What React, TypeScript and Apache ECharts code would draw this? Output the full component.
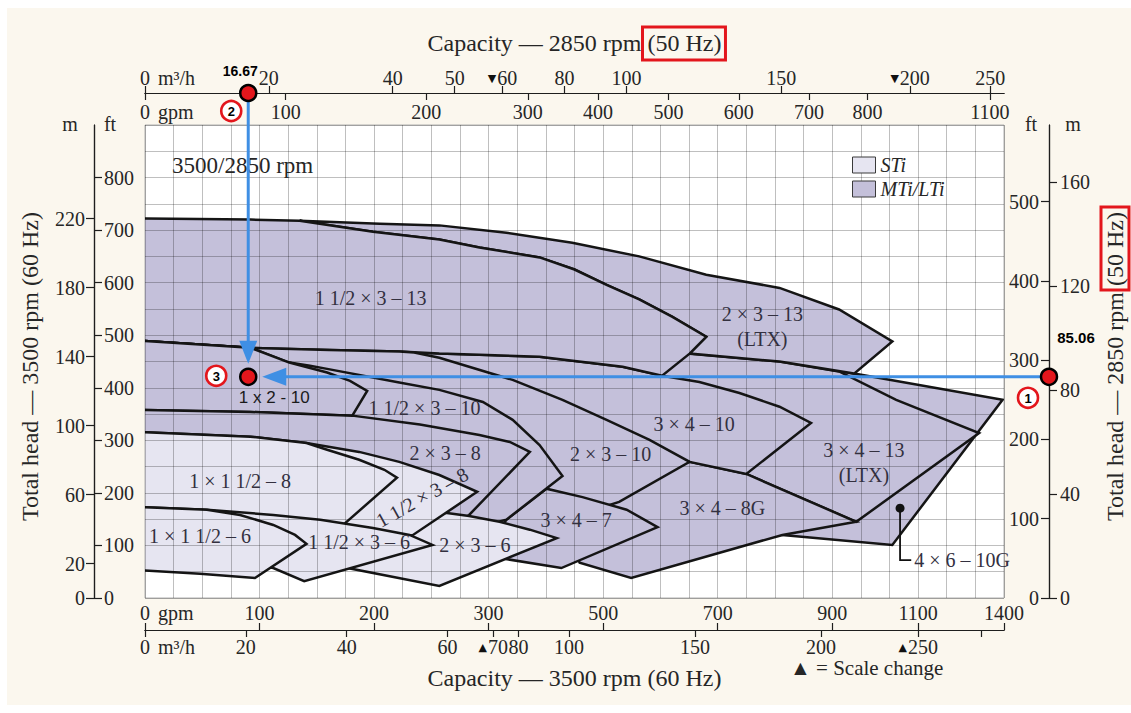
import React, { useEffect, useRef } from 'react';
import * as echarts from 'echarts';

// ---------- scales (the chart's broken capacity scale) ----------
const GPM_BREAKS = [0, 300, 900, 1100, 1400];
const POS_BREAKS = [0, 12, 24, 27, 30];
const GPM_PER_M3H = 4.4029;
const SPEED_RATIO = 2850 / 3500;
const FT_PER_M = 3.2808;
const FT_MAX = 900;

function gpmToPos(g: number): number {
  if (g <= GPM_BREAKS[1]) {
    return POS_BREAKS[0] + ((g - GPM_BREAKS[0]) * (POS_BREAKS[1] - POS_BREAKS[0])) / (GPM_BREAKS[1] - GPM_BREAKS[0]);
  }
  for (let i = 2; i < GPM_BREAKS.length; i++) {
    if (g <= GPM_BREAKS[i] || i === GPM_BREAKS.length - 1) {
      const t = (g - GPM_BREAKS[i - 1]) / (GPM_BREAKS[i] - GPM_BREAKS[i - 1]);
      return POS_BREAKS[i - 1] + t * (POS_BREAKS[i] - POS_BREAKS[i - 1]);
    }
  }
  return 30;
}

// ---------- tick labels ----------
const BOTTOM_GPM_TICKS = [0, 100, 200, 300, 500, 700, 900, 1100, 1400];
const BOTTOM_M3H_TICKS = [0, 20, 40, 60, 70, 80, 100, 150, 200, 250, 300];
const BOTTOM_M3H_LABELS = ['0', '20', '40', '60', '{t|▲}70', '80', '100', '150', '200', '{t|▲}250', ''];
const TOP_GPM_TICKS = [0, 100, 200, 300, 400, 500, 600, 700, 800, 1100];
const TOP_M3H_TICKS = [0, 20, 40, 50, 60, 80, 100, 150, 200, 250];
const TOP_M3H_LABELS = ['0', '20', '40', '50', '{t|▼}60', '80', '100', '150', '{t|▼}200', '250'];
const LEFT_FT_TICKS = [0, 100, 200, 300, 400, 500, 600, 700, 800];
const LEFT_M_TICKS = [0, 20, 60, 100, 140, 180, 220];
const RIGHT_FT_TICKS = [0, 100, 200, 300, 400, 500];
const RIGHT_M_TICKS = [0, 40, 80, 120, 160];

// ---------- pump coverage regions: [gpm @3500 rpm, ft @3500 rpm] ----------
type Pt = [number, number];
const R_4X6_10G: Pt[] = [[563, 415], [633, 461], [651, 465], [808, 450], [951, 427], [1395, 377], [1040, 101], [813, 120], [668, 149], [563, 339]];
const R_3X4_13: Pt[] = [[494, 434], [633, 461], [651, 465], [808, 450], [916, 431], [1049, 377], [1313, 314], [956, 145], [750, 236], [651, 259], [563, 339]];
const R_3X4_8G: Pt[] = [[494, 225], [651, 259], [750, 236], [956, 145], [813, 120], [549, 38], [459, 67], [441, 110]];
const R_3X4_10: Pt[] = [[-6, 490], [92, 476], [161, 472], [222, 469], [257, 465], [292, 463], [389, 459], [534, 440], [603, 423], [668, 411], [738, 390], [808, 364], [863, 333], [750, 236], [651, 259], [563, 282], [266, 415], [-6, 434]];
const R_2X3_13: Pt[] = [[135, 718], [205, 712], [257, 709], [331, 695], [446, 676], [563, 650], [680, 615], [808, 590], [916, 549], [1040, 488], [951, 427], [808, 450], [651, 465], [680, 497], [621, 535], [563, 568], [506, 596], [450, 625], [389, 648], [292, 667], [257, 682], [199, 697], [135, 718]];
const R_15X3_13: Pt[] = [[-6, 722], [92, 720], [135, 718], [199, 697], [257, 682], [292, 667], [389, 648], [450, 625], [506, 596], [563, 568], [621, 535], [680, 497], [651, 465], [603, 423], [534, 440], [389, 459], [292, 463], [257, 465], [222, 469], [161, 472], [92, 476], [-6, 490]];
const R_2X3_10: Pt[] = [[-6, 490], [92, 476], [161, 472], [222, 469], [235, 467], [257, 457], [342, 415], [429, 377], [506, 339], [581, 301], [651, 259], [528, 183], [485, 168], [427, 177], [389, 196], [354, 225], [266, 368], [161, 406], [-6, 415]];
const R_3X4_7: Pt[] = [[331, 149], [401, 208], [464, 192], [541, 168], [595, 135], [427, 57], [331, 74], [319, 101], [319, 130]];
const R_15X3_10: Pt[] = [[-6, 490], [92, 476], [126, 448], [144, 442], [159, 436], [222, 410], [257, 396], [295, 373], [342, 339], [389, 291], [429, 232], [331, 149], [302, 141], [279, 145], [257, 225], [179, 301], [-6, 330]];
const R_1X2_10: Pt[] = [[-6, 490], [92, 476], [126, 448], [159, 429], [179, 413], [194, 394], [181, 347], [92, 354], [-6, 358]];
const R_2X3_8: Pt[] = [[-6, 358], [92, 354], [181, 347], [240, 330], [292, 310], [337, 297], [372, 278], [283, 158], [270, 139], [240, 187], [135, 263], [-6, 291]];
const R_2X3_6: Pt[] = [[262, 162], [283, 156], [319, 145], [372, 130], [419, 114], [257, 23], [177, 57], [161, 91], [222, 149]];
const R_15X3_8: Pt[] = [[-6, 316], [92, 307], [141, 295], [187, 278], [222, 259], [257, 234], [290, 202], [234, 120], [214, 110], [135, 137], [-6, 158]];
const R_1X15_8: Pt[] = [[-6, 316], [92, 307], [141, 295], [159, 282], [187, 263], [209, 244], [220, 229], [174, 141], [149, 126], [-6, 158]];
const R_15X3_6: Pt[] = [[-6, 173], [54, 168], [112, 158], [153, 149], [199, 133], [231, 120], [251, 101], [139, 32], [112, 57], [65, 72], [-6, 72]];
const R_1X15_6: Pt[] = [[-6, 173], [54, 168], [83, 158], [112, 139], [131, 120], [141, 103], [96, 38], [48, 46], [-6, 53]];

type Region = { name: string; pts: Pt[] };
// back-to-front drawing order
const MTI_REGIONS: Region[] = [
  { name: '4×6-10G', pts: R_4X6_10G },
  { name: '3×4-13 (LTX)', pts: R_3X4_13 },
  { name: '3×4-8G', pts: R_3X4_8G },
  { name: '3×4-10', pts: R_3X4_10 },
  { name: '2×3-13 (LTX)', pts: R_2X3_13 },
  { name: '1 1/2×3-13', pts: R_15X3_13 },
  { name: '2×3-10', pts: R_2X3_10 },
  { name: '3×4-7', pts: R_3X4_7 },
  { name: '1 1/2×3-10', pts: R_15X3_10 },
  { name: '1×2-10', pts: R_1X2_10 },
  { name: '2×3-8', pts: R_2X3_8 },
];
const STI_REGIONS: Region[] = [
  { name: '2×3-6', pts: R_2X3_6 },
  { name: '1 1/2×3-8', pts: R_15X3_8 },
  { name: '1×1 1/2-8', pts: R_1X15_8 },
  { name: '1 1/2×3-6', pts: R_15X3_6 },
  { name: '1×1 1/2-6', pts: R_1X15_6 },
];

const PUMP_LABELS = [
  { text: '1 1/2 × 3 – 13', gpm: 197, ft: 571, rotate: 0 },
  { text: '2 × 3 – 13\n(LTX)', gpm: 778, ft: 516, rotate: 0 },
  { text: '1 1/2 × 3 – 10', gpm: 244, ft: 362, rotate: 0 },
  { text: '2 × 3 – 8', gpm: 262, ft: 276, rotate: 0 },
  { text: '1 × 1 1/2 – 8', gpm: 83, ft: 222, rotate: 0 },
  { text: '1 1/2 × 3 – 8', gpm: 242, ft: 192, rotate: 29 },
  { text: '2 × 3 – 10', gpm: 513, ft: 274, rotate: 0 },
  { text: '3 × 4 – 10', gpm: 659, ft: 331, rotate: 0 },
  { text: '3 × 4 – 13\n(LTX)', gpm: 974, ft: 257, rotate: 0 },
  { text: '3 × 4 – 8G', gpm: 708, ft: 171, rotate: 0 },
  { text: '3 × 4 – 7', gpm: 453, ft: 149, rotate: 0 },
  { text: '1 × 1 1/2 – 6', gpm: 48, ft: 118, rotate: 0 },
  { text: '1 1/2 × 3 – 6', gpm: 187, ft: 107, rotate: 0 },
  { text: '2 × 3 – 6', gpm: 288, ft: 101, rotate: 0 },
];

// 4×6-10G leader
const LEADER_PTS: Pt[] = [[1058, 171], [1058, 72], [1084, 72]];
const LEADER_LABEL = { text: '4 × 6 – 10G', gpm: 1091, ft: 72 };

// selection example (2850 rpm duty point)
const DUTY_FLOW_M3H = 16.67;
const DUTY_HEAD_M = 85.06;

// ---------- styles ----------
const DARK = '#C4C0DA';
const LIGHT = '#E6E5F1';
const STROKE = '#151515';
const GRID_LINE = 'rgba(0,0,0,0.25)';
const AXIS_COLOR = '#1e1e1e';
const TEXT = '#262626';
const PUMP_TEXT = '#33303f';
const SERIF = '"Liberation Serif", "DejaVu Serif", serif';
const SANS = '"Liberation Sans", Arial, sans-serif';
const BLUE = '#3f8fe4';
const RED = '#e3161c';
const LEFT_OFFSET = 51;
const RIGHT_OFFSET = 45;

function lookup(positions: number[], labels: string[]) {
  return (v: number) => {
    for (let i = 0; i < positions.length; i++) {
      if (Math.abs(positions[i] - v) < 1e-3) return labels[i];
    }
    return '';
  };
}

function capAxis(position: 'top' | 'bottom', positions: number[], labels: string[], inside: boolean, margin: number) {
  return {
    type: 'value',
    min: 0,
    max: 30,
    position,
    offset: 32,
    axisLine: { show: true, onZero: false, lineStyle: { color: AXIS_COLOR, width: 1.2 } },
    axisTick: { show: true, inside, length: 7, customValues: positions, lineStyle: { color: AXIS_COLOR, width: 1.2 } },
    axisLabel: {
      show: true,
      inside,
      margin,
      customValues: positions,
      showMinLabel: true,
      showMaxLabel: true,
      formatter: lookup(positions, labels),
      color: TEXT,
      fontFamily: SERIF,
      fontSize: 20,
      rich: { t: { fontSize: 11, fontFamily: '"DejaVu Sans", sans-serif', color: '#111', padding: [0, 1, 0, 0] } },
    },
    splitLine: { show: false },
  };
}

function headAxis(position: 'left' | 'right', offset: number, max: number, ticks: number[], inside: boolean, margin: number) {
  return {
    type: 'value',
    min: 0,
    max,
    position,
    offset,
    axisLine: { show: true, onZero: false, lineStyle: { color: AXIS_COLOR, width: 1.2 } },
    axisTick: { show: true, inside, length: 8, customValues: ticks, lineStyle: { color: AXIS_COLOR, width: 1.2 } },
    axisLabel: {
      show: true,
      inside,
      margin,
      customValues: ticks,
      showMinLabel: true,
      showMaxLabel: true,
      formatter: (v: number) => String(Math.round(v)),
      color: TEXT,
      fontFamily: SERIF,
      fontSize: 20,
    },
    splitLine: { show: false },
  };
}

function regionSeries(name: string, regions: Region[], fill: string) {
  return {
    type: 'custom',
    name,
    clip: true,
    silent: true,
    z: 2,
    itemStyle: { color: fill },
    data: regions.map((r) => ({ name: r.name, value: [0, 0] })),
    renderItem: (params: any, api: any) => {
      const r = regions[params.dataIndex];
      const points = r.pts.map(([g, f]) => api.coord([gpmToPos(g), f]));
      return {
        type: 'polygon',
        shape: { points },
        style: { fill, stroke: STROKE, lineWidth: 2.5, lineJoin: 'miter' },
      };
    },
  };
}

function buildOption() {
  const bottomGpmPos = BOTTOM_GPM_TICKS.map((v) => gpmToPos(v));
  const bottomM3hPos = BOTTOM_M3H_TICKS.map((v) => gpmToPos(v * GPM_PER_M3H));
  const topGpmPos = TOP_GPM_TICKS.map((v) => gpmToPos(v / SPEED_RATIO));
  const topM3hPos = TOP_M3H_TICKS.map((v) => gpmToPos((v * GPM_PER_M3H) / SPEED_RATIO));
  const sr2 = SPEED_RATIO * SPEED_RATIO;

  return {
    animation: false,
    backgroundColor: 'transparent',
    grid: {
      left: 145,
      right: 127,
      top: 125,
      bottom: 115,
      show: true,
      backgroundColor: '#ffffff',
      borderColor: '#b0b0b0',
      borderWidth: 1,
    },
    legend: {
      orient: 'vertical',
      left: 852,
      top: 155,
      padding: 0,
      itemWidth: 23,
      itemHeight: 16,
      itemGap: 4,
      icon: 'rect',
      selectedMode: false,
      z: 20,
      textStyle: { fontFamily: SERIF, fontStyle: 'italic', fontSize: 20, color: TEXT },
      data: [
        { name: 'STi', itemStyle: { color: LIGHT, borderColor: '#3a3a3a', borderWidth: 1 } },
        { name: 'MTi/LTi', itemStyle: { color: DARK, borderColor: '#3a3a3a', borderWidth: 1 } },
      ],
    },
    xAxis: [
      {
        type: 'value',
        min: 0,
        max: 30,
        interval: 1,
        position: 'bottom',
        z: 10,
        axisLine: { show: false, onZero: false },
        axisTick: { show: false },
        axisLabel: { show: false },
        splitLine: { show: true, lineStyle: { color: GRID_LINE, width: 1 } },
      },
      capAxis('bottom', bottomGpmPos, BOTTOM_GPM_TICKS.map(String), true, 7),
      capAxis('bottom', bottomM3hPos, BOTTOM_M3H_LABELS, false, 7),
      capAxis('top', topGpmPos, TOP_GPM_TICKS.map(String), true, 9),
      capAxis('top', topM3hPos, TOP_M3H_LABELS, false, 5),
    ],
    yAxis: [
      {
        type: 'value',
        min: 0,
        max: FT_MAX,
        interval: 50,
        z: 10,
        axisLine: { show: false, onZero: false },
        axisTick: { show: false },
        axisLabel: { show: false },
        splitLine: { show: true, lineStyle: { color: GRID_LINE, width: 1 } },
      },
      headAxis('left', LEFT_OFFSET, FT_MAX, LEFT_FT_TICKS, true, 10),
      headAxis('left', LEFT_OFFSET, FT_MAX / FT_PER_M, LEFT_M_TICKS, false, 9),
      headAxis('right', RIGHT_OFFSET, FT_MAX * sr2, RIGHT_FT_TICKS, true, 10),
      headAxis('right', RIGHT_OFFSET, (FT_MAX * sr2) / FT_PER_M, RIGHT_M_TICKS, false, 11),
    ],
    series: [
      regionSeries('MTi/LTi', MTI_REGIONS, DARK),
      regionSeries('STi', STI_REGIONS, LIGHT),
      {
        type: 'custom',
        name: 'pump models',
        z: 12,
        silent: true,
        data: PUMP_LABELS.map((l) => ({ value: [gpmToPos(l.gpm), l.ft] })),
        renderItem: (params: any, api: any) => {
          const l = PUMP_LABELS[params.dataIndex];
          const p = api.coord([gpmToPos(l.gpm), l.ft]);
          return {
            type: 'text',
            x: p[0],
            y: p[1],
            rotation: (l.rotate * Math.PI) / 180,
            style: {
              text: l.text,
              fill: PUMP_TEXT,
              font: `20px ${SERIF}`,
              align: 'center',
              verticalAlign: 'middle',
              textAlign: 'center',
              textVerticalAlign: 'middle',
              lineHeight: 25,
            },
          };
        },
      },
    ],
  };
}

function txt(x: number, y: number, text: string, font: string, opts: any = {}) {
  return {
    type: 'text',
    x,
    y,
    z: 50,
    rotation: opts.rotation || 0,
    style: {
      text,
      font,
      fill: opts.fill || TEXT,
      align: opts.align || 'left',
      verticalAlign: 'middle',
      textAlign: opts.align || 'left',
      textVerticalAlign: 'middle',
    },
  };
}

export default function App() {
  const ref = useRef<HTMLDivElement>(null);
  useEffect(() => {
    if (!ref.current) return;
    const chart = echarts.init(ref.current, null, { renderer: 'svg' });
    chart.setOption(buildOption() as any);

    const toPx = (g: number, f: number) => chart.convertToPixel({ gridIndex: 0 } as any, [gpmToPos(g), f]) as number[];
    const [gx0, gyTop] = toPx(0, FT_MAX);
    const [gx1, gyBot] = toPx(1400, 0);
    const axisTopY = gyTop - 32;
    const axisBotY = gyBot + 32;
    const axisRightX = gx1 + RIGHT_OFFSET;
    const axisLeftX = gx0 - LEFT_OFFSET;
    const xA = toPx((DUTY_FLOW_M3H * GPM_PER_M3H) / SPEED_RATIO, 0)[0];
    const yA = toPx(0, (DUTY_HEAD_M * FT_PER_M) / (SPEED_RATIO * SPEED_RATIO))[1];

    const titleFont = `24px ${SERIF}`;
    const topTitle = 'Capacity — 2850 rpm (50 Hz)';
    const botTitle = 'Capacity — 3500 rpm (60 Hz)';
    const leftTitle = 'Total head — 3500 rpm (60 Hz)';
    const rightTitle = 'Total head — 2850 rpm (50 Hz)';
    const ctx = document.createElement('canvas').getContext('2d') as CanvasRenderingContext2D;
    ctx.font = titleFont;
    const wTop = ctx.measureText(topTitle).width;
    const wRight = ctx.measureText(rightTitle).width;
    const wHz = ctx.measureText('(50 Hz)').width;
    const cx = (gx0 + gx1) / 2;
    const topTitleY = axisTopY - 50;
    const rightTitleX = axisRightX + 66;
    const rightTitleY = (gyTop + gyBot) / 2 + 5;

    const dot = (x: number, y: number) => ({
      type: 'circle', z: 60, shape: { cx: x, cy: y, r: 8 }, style: { fill: RED, stroke: '#000', lineWidth: 2.5 },
    });
    const badge = (x: number, y: number, n: string) => [
      { type: 'circle', z: 60, shape: { cx: x, cy: y, r: 10 }, style: { fill: '#fff', stroke: RED, lineWidth: 2.6 } },
      { ...txt(x, y + 0.5, n, `bold 13px ${SANS}`, { align: 'center', fill: '#000' }), z: 61 },
    ];
    const leaderPx = LEADER_PTS.map(([g, f]) => toPx(g, f));
    const leaderLabelPx = toPx(LEADER_LABEL.gpm, LEADER_LABEL.ft);

    const graphic: any[] = [
      // titles
      txt(cx, topTitleY, topTitle, titleFont, { align: 'center' }),
      txt(cx, axisBotY + 48, botTitle, titleFont, { align: 'center' }),
      txt(axisLeftX - 64, (gyTop + gyBot) / 2 + 5, leftTitle, titleFont, { align: 'center', rotation: Math.PI / 2 }),
      txt(rightTitleX, rightTitleY, rightTitle, titleFont, { align: 'center', rotation: Math.PI / 2 }),
      {
        type: 'rect', z: 55,
        shape: { x: cx + wTop / 2 - wHz - 5, y: topTitleY - 16, width: wHz + 9, height: 33 },
        style: { fill: 'none', stroke: RED, lineWidth: 3 },
      },
      {
        type: 'rect', z: 55,
        shape: { x: rightTitleX - 14, y: rightTitleY - wRight / 2 - 5, width: 28, height: wHz + 9 },
        style: { fill: 'none', stroke: RED, lineWidth: 3 },
      },
      // unit captions
      txt(gx0 + 13, axisTopY - 15, 'm³/h', `20px ${SERIF}`),
      txt(gx0 + 13, axisTopY + 19, 'gpm', `20px ${SERIF}`),
      txt(gx0 + 13, axisBotY - 17, 'gpm', `20px ${SERIF}`),
      txt(gx0 + 13, axisBotY + 17, 'm³/h', `20px ${SERIF}`),
      txt(axisLeftX - 24, gyTop - 1, 'm', `20px ${SERIF}`, { align: 'center' }),
      txt(axisLeftX + 16, gyTop - 1, 'ft', `20px ${SERIF}`, { align: 'center' }),
      txt(axisRightX - 18, gyTop - 1, 'ft', `20px ${SERIF}`, { align: 'center' }),
      txt(axisRightX + 24, gyTop - 1, 'm', `20px ${SERIF}`, { align: 'center' }),
      txt(gx0 + 27, gyTop + 40, '3500/2850 rpm', `23px ${SERIF}`),
      txt(790, axisBotY + 38, '▲ = Scale change', `21px ${SERIF}`),
      // 4×6-10G leader
      { type: 'circle', z: 50, shape: { cx: leaderPx[0][0], cy: leaderPx[0][1], r: 4.5 }, style: { fill: '#111' } },
      { type: 'polyline', z: 50, shape: { points: leaderPx }, style: { stroke: '#111', lineWidth: 1.8, fill: 'none' } },
      txt(leaderLabelPx[0], leaderLabelPx[1], LEADER_LABEL.text, `20px ${SERIF}`, { fill: PUMP_TEXT }),
      // selection arrows
      { type: 'line', z: 58, shape: { x1: xA, y1: axisTopY, x2: xA, y2: yA - 34 }, style: { stroke: BLUE, lineWidth: 3 } },
      { type: 'polygon', z: 58, shape: { points: [[xA, yA - 13], [xA - 9, yA - 36], [xA + 9, yA - 36]] }, style: { fill: BLUE } },
      { type: 'line', z: 58, shape: { x1: axisRightX, y1: yA, x2: xA + 36, y2: yA }, style: { stroke: BLUE, lineWidth: 3 } },
      { type: 'polygon', z: 58, shape: { points: [[xA + 14, yA], [xA + 38, yA - 9], [xA + 38, yA + 9]] }, style: { fill: BLUE } },
      dot(xA, axisTopY),
      dot(axisRightX, yA),
      dot(xA, yA),
      ...badge(xA - 17, axisTopY + 18, '2'),
      ...badge(axisRightX - 21, yA + 21, '1'),
      ...badge(xA - 32, yA - 1, '3'),
      { ...txt(xA - 8, axisTopY - 22, '16.67', `bold 14px ${SANS}`, { align: 'center', fill: '#000' }), z: 62 },
      { ...txt(axisRightX + 27, yA - 39, '85.06', `bold 15px ${SANS}`, { align: 'center', fill: '#000' }), z: 62 },
      { ...txt(xA + 26, yA + 21, '1 x 2 - 10', `17px ${SANS}`, { align: 'center', fill: '#1a1a1a' }), z: 62 },
    ];
    chart.setOption({ graphic } as any);

    return () => chart.dispose();
  }, []);

  return (
    <div style={{ position: 'fixed', left: 0, top: 0, width: 1131, height: 713, background: '#ffffff' }}>
      <div style={{ position: 'absolute', left: 7, top: 8, width: 1124, height: 697, background: '#fbf7ee' }} />
      <div ref={ref} style={{ position: 'absolute', left: 0, top: 0, width: 1131, height: 713 }} />
    </div>
  );
}
